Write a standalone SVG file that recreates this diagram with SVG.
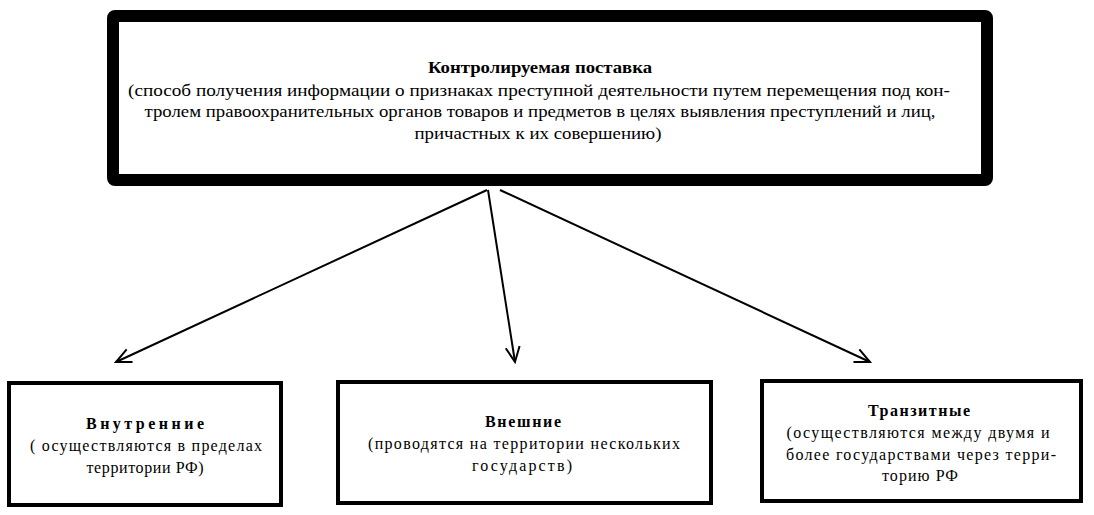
<svg xmlns="http://www.w3.org/2000/svg" width="1094" height="515" viewBox="0 0 1094 515">
<defs>
<marker id="arr" markerWidth="20" markerHeight="20" refX="16" refY="8" orient="auto" markerUnits="userSpaceOnUse">
<path d="M1,1 L16,8 L1,15" fill="none" stroke="#000" stroke-width="2"/>
</marker>
<style>
.txt{font-family:"Liberation Serif",serif;text-anchor:middle;fill:#000}
.b{font-weight:bold}
.box{fill:#fff;stroke:#000;stroke-width:4}
.edge{stroke:#000;stroke-width:2;fill:none;marker-end:url(#arr)}
</style>
</defs>
<rect width="1094" height="515" fill="#fff"/>
<g id="connectors">
<line class="edge" x1="487" y1="190" x2="116" y2="362"/>
<line class="edge" x1="488" y1="190" x2="515" y2="362"/>
<line class="edge" x1="500" y1="190" x2="870" y2="362"/>
</g>
<g id="root" class="txt" font-size="16">
<rect x="113" y="16" width="874" height="164" rx="2" fill="#fff" stroke="#000" stroke-width="12"/>
<text class="b" x="540" y="73" textLength="224" lengthAdjust="spacingAndGlyphs">Контролируемая поставка</text>
<text x="539" y="96" textLength="822" lengthAdjust="spacingAndGlyphs">(способ получения информации о признаках преступной деятельности путем перемещения под кон-</text>
<text x="540" y="117" textLength="791" lengthAdjust="spacingAndGlyphs">тролем правоохранительных органов товаров и предметов в целях выявления преступлений и лиц,</text>
<text x="538" y="139" textLength="247" lengthAdjust="spacingAndGlyphs">причастных к их совершению)</text>
</g>
<g id="internal" class="txt" font-size="16">
<rect class="box" x="9" y="383" width="272" height="122"/>
<text class="b" x="145" y="429" textLength="118" lengthAdjust="spacing">Внутренние</text>
<text x="146" y="451" textLength="232" lengthAdjust="spacing">( осуществляются в пределах</text>
<text x="145" y="473" textLength="117" lengthAdjust="spacing">территории РФ)</text>
</g>
<g id="external" class="txt" font-size="16">
<rect class="box" x="338" y="382" width="373" height="121"/>
<text class="b" x="523" y="427" textLength="76" lengthAdjust="spacing">Внешние</text>
<text x="524" y="449" textLength="312" lengthAdjust="spacing">(проводятся на территории нескольких</text>
<text x="522" y="471" textLength="100" lengthAdjust="spacing">государств)</text>
</g>
<g id="transit" class="txt" font-size="16">
<rect class="box" x="762" y="381" width="319" height="120"/>
<text class="b" x="919" y="416" textLength="102" lengthAdjust="spacing">Транзитные</text>
<text x="918" y="438" textLength="263" lengthAdjust="spacing">(осуществляются  между двумя и</text>
<text x="921" y="460" textLength="270" lengthAdjust="spacing">более государствами через терри-</text>
<text x="920" y="481" textLength="76" lengthAdjust="spacing">торию РФ</text>
</g>
</svg>
